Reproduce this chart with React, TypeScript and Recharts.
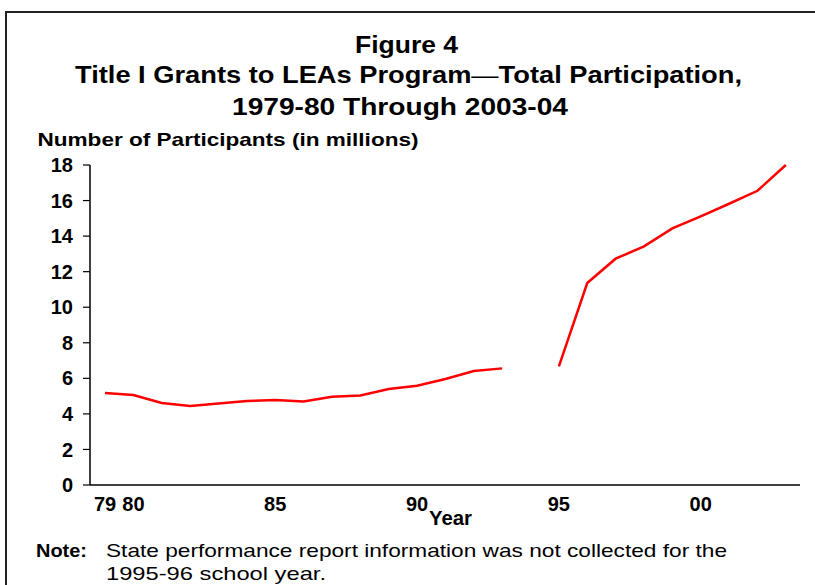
import React from "react";
import { LineChart, Line, XAxis, YAxis } from "recharts";

// school years 1979-80 .. 2003-04, keyed by the fall year
const years = [
  1979, 1980, 1981, 1982, 1983, 1984, 1985, 1986, 1987, 1988, 1989, 1990, 1991,
  1992, 1993, 1994, 1995, 1996, 1997, 1998, 1999, 2000, 2001, 2002, 2003,
];

// participants in millions (no report collected -> null)
const participants: (number | null)[] = [
  5.17, 5.06, 4.61, 4.44, 4.58, 4.72, 4.78, 4.7, 4.97, 5.04, 5.4, 5.58, 5.96,
  6.41, 6.56, null, 6.67, 11.36, 12.73, 13.42, 14.43, 15.11, 15.82, 16.55, 18.0,
];

const xTicks = [1979, 1980, 1985, 1990, 1995, 2000];
const yTicks = [0, 2, 4, 6, 8, 10, 12, 14, 16, 18];

const data = years.map((year, i) => ({ year, value: participants[i] }));

const FONT = '"Liberation Sans", Arial, Helvetica, sans-serif';

const W = 815;
const H = 585;

export default function App() {
  return (
    <div
      style={{
        position: "absolute",
        left: 0,
        top: 0,
        width: W,
        height: H,
        background: "#fff",
        overflow: "hidden",
        fontFamily: FONT,
      }}
    >
      <LineChart
        width={W}
        height={H}
        data={data}
        margin={{ top: 165, right: 15, bottom: 70, left: 30 }}
      >
        <XAxis
          dataKey="year"
          type="number"
          domain={[1978.47, 2003.5]}
          ticks={xTicks}
          interval={0}
          tickFormatter={(v: number) => String(v).slice(2)}
          tickLine={false}
          tickSize={0}
          tickMargin={12}
          height={30}
          axisLine={{ stroke: "#000", strokeWidth: 1.5 }}
          tick={{ fill: "#000", fontSize: 20, fontWeight: "bold", fontFamily: FONT }}
        />
        <YAxis
          domain={[0, 18]}
          ticks={yTicks}
          interval={0}
          width={60}
          tickSize={7}
          tickMargin={10}
          axisLine={{ stroke: "#000", strokeWidth: 1.5 }}
          tickLine={{ stroke: "#000", strokeWidth: 1.2 }}
          tick={{ fill: "#000", fontSize: 20, fontWeight: "bold", fontFamily: FONT }}
        />
        <Line
          type="linear"
          dataKey="value"
          stroke="#ff0000"
          strokeWidth={2.5}
          dot={false}
          activeDot={false}
          connectNulls={false}
          isAnimationActive={false}
        />
      </LineChart>

      {/* frame, titles and notes */}
      <svg
        width={W}
        height={H}
        style={{ position: "absolute", left: 0, top: 0, pointerEvents: "none" }}
        fontFamily={FONT}
      >
        <path d={`M6,${H} L6,12 L${W},12`} fill="none" stroke="#222" strokeWidth={2} />

        <g fill="#000" fontWeight="bold" textAnchor="middle">
          <text x={406.5} y={53} fontSize={23} textLength={103} lengthAdjust="spacingAndGlyphs">
            Figure 4
          </text>
          <text x={408.5} y={83} fontSize={23} textLength={667} lengthAdjust="spacingAndGlyphs">
            Title I Grants to LEAs Program<tspan fontWeight="normal">—</tspan>Total Participation,
          </text>
          <text x={400} y={115} fontSize={23} textLength={336} lengthAdjust="spacingAndGlyphs">
            1979-80 Through 2003-04
          </text>
        </g>

        <text
          x={37.5}
          y={145.5}
          fontSize={18.5}
          fontWeight="bold"
          fill="#000"
          textLength={381}
          lengthAdjust="spacingAndGlyphs"
        >
          Number of Participants (in millions)
        </text>

        <text
          x={429}
          y={525}
          fontSize={20}
          fontWeight="bold"
          fill="#000"
          textLength={43}
          lengthAdjust="spacingAndGlyphs"
        >
          Year
        </text>

        <text x={36} y={556.5} fontSize={18.5} fontWeight="bold" fill="#000" textLength={51} lengthAdjust="spacingAndGlyphs">
          Note:
        </text>
        <text x={106} y={556.5} fontSize={18.5} fill="#000" textLength={621} lengthAdjust="spacingAndGlyphs">
          State performance report information was not collected for the
        </text>
        <text x={106} y={580} fontSize={18.5} fill="#000" textLength={220} lengthAdjust="spacingAndGlyphs">
          1995-96 school year.
        </text>
      </svg>
    </div>
  );
}
